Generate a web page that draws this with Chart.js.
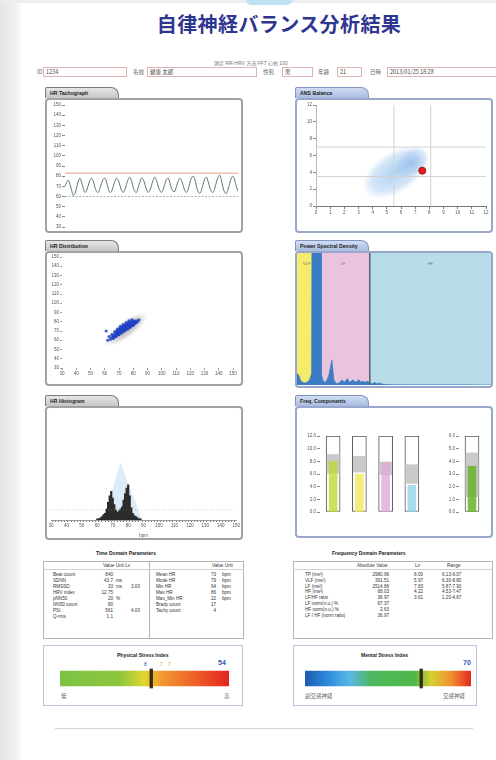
<!DOCTYPE html>
<html lang="ja">
<head>
<meta charset="utf-8">
<title>自律神経バランス分析結果</title>
<script src="https://cdn.jsdelivr.net/npm/chart.js@4.4.0/dist/chart.umd.min.js"></script>
<style>
    html, body { margin: 0; padding: 0; background: #fff; }
    body { width: 496px; height: 760px; position: relative; overflow: hidden;
           font-family: "Liberation Sans", Arial, "Noto Sans CJK JP", sans-serif; color: #333; }
    .abs { position: absolute; }
    .edge { left: 0; top: 0; width: 24px; height: 760px; background: linear-gradient(to right, #e4e5e7, #f3f3f4 70%, #fff); }
    .topbar { left: 0; top: 0; width: 496px; height: 3px; background: #ebedef; }
    .toptab { left: 246px; top: 0; width: 46px; height: 5px; background: #bfe1f1; border-radius: 0 0 6px 6px; }
    h1 { position: absolute; left: 0; top: 9px; width: 558px; margin: 0; text-align: center;
         font: bold 20px "Noto Sans CJK JP", sans-serif; color: #2f3690; letter-spacing: 0.4px; }
    .sub { font-size: 5px; color: #777; white-space: nowrap; }
    .lbl { font: 5.5px "Noto Sans CJK JP", sans-serif; color: #666; white-space: nowrap; }
    .box { height: 10px; box-sizing: border-box; border: 1px solid #e2b2b2; background: #fff;
           font: 5.5px "Noto Sans CJK JP", sans-serif; color: #444; line-height: 8px; padding-left: 2px; white-space: nowrap; }
    .tab { height: 11px; box-sizing: border-box; border: 1px solid #7d7d7d; border-bottom: none;
           border-radius: 2px 8px 0 0; background: linear-gradient(#e6e6e6, #c6c6c6);
           font-weight: bold; font-size: 5.2px; line-height: 10px; padding-left: 4px; color: #222; white-space: nowrap; }
    .tab.blue { border-color: #8494c0; background: linear-gradient(#cfdcf2, #a9bde2); }
    .panel { box-sizing: border-box; border: 2px solid #a2a2a2; border-radius: 4px; background: #fff; }
    .panel.blue { border-color: #9aa7cd; }
    canvas { position: absolute; }
    .ttl { font-weight: bold; font-size: 5px; color: #222; white-space: nowrap; }
    .tbl { box-sizing: border-box; border: 1px solid #b4b4b4; background: #fff; }
    .cell { font-size: 4.6px; color: #333; white-space: nowrap; line-height: 5px; }
    .sbox { box-sizing: border-box; border: 1px solid #bcc3da; background: #fff; }
    .mk { font-size: 5px; white-space: nowrap; }
</style>
</head>
<body>
<div class="abs edge"></div>
<div class="abs topbar"></div>
<div class="abs toptab"></div>
<h1>自律神経バランス分析結果</h1>
<div id="page"></div>

<script>
// ---- data ----
const tachBeats = [70,74,76,72,66,61,63,69,75,78,74,68,64,66,71,76,78,75,69,65,64,68,73,77,78,74,68,64,65,70,
                   75,78,76,71,66,64,67,72,77,79,75,69,65,64,69,74,78,77,72,67,64,66,71,76,79,76,70,66,64,67,
                   72,77,78,74,68,65,65,70,75,78,76,71,66,64,67,73,78,80,77,70,65,63,66,72,77,79,75,69,65,64,
                   68,74,79,81,76,69,64,63,67,73,78,80,76,70,65];
const tachUpper = 83;
const tachLower = 60;

const ansPoint = { x: 7.5, y: 4.2 };
const ansRefX = [5.5, 8.1];
const ansRefY = [3.5, 7.0];
const ansCloud = [[3.4, 1.5], [7.8, 6.5]];
const ansCore = [[5.6, 3.9], [7.9, 6.4]];

const poincarePts = [[64,61],[65,63],[66,62],[66,65],[67,64],[67,66],[68,65],[68,67],[68,69],[69,66],[69,68],[69,70],
    [70,67],[70,69],[70,71],[70,72],[71,68],[71,70],[71,72],[71,73],[72,69],[72,71],[72,73],[72,74],[73,70],[73,72],
    [73,74],[73,75],[74,71],[74,73],[74,75],[74,76],[75,72],[75,74],[75,76],[75,77],[76,73],[76,75],[76,77],[76,78],
    [77,74],[77,76],[77,78],[77,79],[78,75],[78,77],[78,79],[79,76],[79,78],[79,80],[80,77],[80,79],[80,81],[81,78],
    [81,80],[82,79],[82,81],[83,80],[84,82],[65,66],[67,69],[69,72],[71,75],[73,77],[75,79],[77,81],[79,82],[66,63],
    [68,64],[70,66],[72,68],[74,70],[76,72],[78,74],[80,76],[63,64],[62,60],[61,70]];
const poincareHalo = [[60, 55], [90, 89]];

const psdFreq  = [0,0.004,0.008,0.012,0.016,0.020,0.024,0.027,0.030,0.031,0.035,0.040,0.045,0.0495,0.0505,0.054,
                  0.058,0.062,0.066,0.069,0.072,0.074,0.076,0.079,0.083,0.088,0.093,0.097,0.100,0.104,0.108,0.112,
                  0.116,0.120,0.124,0.128,0.132,0.136,0.140,0.145,0.150,0.155,0.160,0.165,0.170,0.175,0.180,0.190,
                  0.200,0.250,0.300,0.350,0.400];
const psdPower = [9,7,3,2,1.5,2,3,5,9,150,150,150,150,150,8,3,2,4,8,14,19,12,4,2,1,2,4,2,3,5,2,3,4,2,3,4,2,3,2,
                  3,1.5,1,2,1,1.5,0.8,0.5,0.3,0.2,0.1,0.1,0.1,0];
const psdBands = [['VLF', 0, 0.04], ['LF', 0.04, 0.15], ['HF', 0.15, 0.4]];

const histBins   = [60,61,62,63,64,65,66,67,68,69,70,71,72,73,74,75,76,77,78,79,80,81,82,83,84,85,86,87,88];
const histCounts = [1,1,2,3,5,6,10,16,22,26,20,14,9,7,8,10,12,18,24,29,32,22,11,6,4,3,2,1,1];
const histEnvelope = [[64,0],[75,52],[89,0]];
const histGuide = 9;

const fcLabels = ['TP', 'VLF', 'LF', 'HF'];
const fcLn     = [8.00, 5.97, 7.83, 4.22];
const fcRange  = [[6.13, 9.07], [6.30, 8.80], [5.87, 7.90], [4.53, 7.47]];
const lfhfLn    = 3.61;
const lfhfRange = [1.20, 4.67];

const physValue = 54;
const mentalValue = 70;

const timeLeft = [['Beat count','840','',''],['SDNN','43.7','ms',''],['RMSSD','33','ms','3.00'],['HRV index','12.75','',''],
                  ['pNN50','20','%',''],['NN50 count','80','',''],['PSI','561','','4.00'],['Q-rms','1.1','','']];
const timeRight = [['Mean HR','73','bpm'],['Mode HR','79','bpm'],['Min HR','64','bpm'],['Max HR','86','bpm'],
                   ['Max_Min HR','22','bpm'],['Brady count','17',''],['Tachy count','4','']];
const freqRows = [['TP (ms²)','2980.96'],['VLF (ms²)','391.51'],['LF (ms²)','2514.86'],['HF (ms²)','68.03'],
                  ['LF/HF ratio','36.97'],['LF norm(n.u.) %','97.37'],['HF norm(n.u.) %','2.63'],['LF / HF (norm ratio)','36.97']];

// ---- page layout ----
const page = document.getElementById('page');
function put(cls, x, y, text, extra) {
    const d = document.createElement('div');
    d.className = 'abs ' + cls;
    d.style.left = x + 'px';
    d.style.top = y + 'px';
    if (text !== undefined) d.textContent = text;
    if (extra) Object.assign(d.style, extra);
    page.appendChild(d);
    return d;
}
function putRight(cls, x, y, text) {
    const d = put(cls, 0, y, text);
    d.style.left = '';
    d.style.right = (496 - x) + 'px';
    return d;
}
function canvas(id, x, y, w, h) {
    const c = document.createElement('canvas');
    c.id = id; c.width = w; c.height = h;
    c.style.left = x + 'px'; c.style.top = y + 'px';
    page.appendChild(c);
    return c;
}

put('sub', 214, 59, '測定  RR-HRV     方法  FFT       心拍  100');
put('lbl', 37, 68, 'ID');
put('box', 43, 67, '1234', { width: '84px' });
put('lbl', 133, 68, '名前');
put('box', 147, 67, '健康  太郎', { width: '110px' });
put('lbl', 263, 68, '性別');
put('box', 282, 67, '男', { width: '31px' });
put('lbl', 318, 68, '年齢');
put('box', 337, 67, '21', { width: '25px' });
put('lbl', 370, 68, '日時');
put('box', 387, 67, '2013/01/25 18:28', { width: '112px' });

const panels = [
    ['HR Tachograph', 45, 87, 135, false],
    ['ANS Balance', 295, 87, 135, true],
    ['HR Distribution', 45, 240, 135, false],
    ['Power Spectral Density', 295, 240, 137, true],
    ['HR Histogram', 45, 395, 134, false],
    ['Freq. Components', 295, 395, 132, true]
];
panels.forEach(([name, x, y, h, blue]) => {
    put('tab' + (blue ? ' blue' : ''), x, y, name, { width: '74px' });
    put('panel' + (blue ? ' blue' : ''), x, y + 11, undefined, { width: '198px', height: h + 'px' });
});

// tables
put('ttl', 96, 550, 'Time Domain Parameters');
put('tbl', 43, 561, undefined, { width: '201px', height: '78px' });
put('abs', 149, 561, undefined, { width: '1px', height: '78px', background: '#b4b4b4' });
put('abs', 43, 569, undefined, { width: '201px', height: '1px', background: '#d0d0d0' });
put('cell', 103, 563, 'Value  Unit    Lv');
put('cell', 212, 563, 'Value   Unit');
timeLeft.forEach((r, i) => {
    const y = 572 + i * 6;
    put('cell', 53, y, r[0]);
    putRight('cell', 113, y, r[1]);
    put('cell', 116, y, r[2]);
    put('cell', 131, y, r[3]);
});
timeRight.forEach((r, i) => {
    const y = 572 + i * 6;
    put('cell', 156, y, r[0]);
    putRight('cell', 216, y, r[1]);
    put('cell', 222, y, r[2]);
});

put('ttl', 332, 550, 'Frequency Domain Parameters');
put('tbl', 293, 561, undefined, { width: '200px', height: '78px' });
put('abs', 293, 569, undefined, { width: '200px', height: '1px', background: '#d0d0d0' });
put('cell', 357, 563, 'Absolute Value');
put('cell', 415, 563, 'Ln');
put('cell', 447, 563, 'Range');
freqRows.forEach((r, i) => {
    const y = 572 + i * 5.8;
    put('cell', 305, y, r[0]);
    putRight('cell', 389, y, r[1]);
});
fcLn.concat([lfhfLn]).forEach((v, i) => {
    const y = 572 + i * 5.8;
    const rg = i < 4 ? fcRange[i] : lfhfRange;
    putRight('cell', 423, y, v.toFixed(2));
    put('cell', 442, y, rg[0].toFixed(2) + '-' + rg[1].toFixed(2));
});

// stress boxes
put('sbox', 43, 645, undefined, { width: '200px', height: '61px' });
put('ttl', 117, 652, 'Physical Stress Index');
put('mk', 144, 661, '8', { color: '#3553b0' });
put('mk', 160, 661, '7', { color: '#d49a20' });
put('mk', 168, 661, '7', { color: '#d49a20' });
put('mk', 218, 659, String(physValue), { color: '#3553b0', fontSize: '7px', fontWeight: 'bold' });
put('lbl', 61, 692, '低');
put('lbl', 224, 692, '高');

put('sbox', 293, 645, undefined, { width: '184px', height: '61px' });
put('ttl', 361, 652, 'Mental Stress Index');
put('mk', 463, 659, String(mentalValue), { color: '#3553b0', fontSize: '7px', fontWeight: 'bold' });
put('lbl', 305, 692, '副交感神経');
put('lbl', 443, 692, '交感神経');

put('abs', 55, 728, undefined, { width: '418px', height: '1px', background: '#d2d2d2' });

// ---- charts ----
Chart.defaults.font.family = "'Liberation Sans', Arial, sans-serif";
Chart.defaults.font.size = 4.5;
Chart.defaults.color = '#555';
Chart.defaults.animation = false;
Chart.defaults.responsive = false;
Chart.defaults.plugins.legend.display = false;
Chart.defaults.plugins.tooltip.enabled = false;

// soft ellipse between two data points (major axis), half width in px
function softEllipse(chart, ends, halfMinor, stops) {
    const xs = chart.scales.x, ys = chart.scales.y;
    const x1 = xs.getPixelForValue(ends[0][0]), y1 = ys.getPixelForValue(ends[0][1]);
    const x2 = xs.getPixelForValue(ends[1][0]), y2 = ys.getPixelForValue(ends[1][1]);
    const cx = (x1 + x2) / 2, cy = (y1 + y2) / 2;
    const half = Math.hypot(x2 - x1, y2 - y1) / 2;
    const ctx = chart.ctx;
    ctx.save();
    ctx.translate(cx, cy);
    ctx.rotate(Math.atan2(y2 - y1, x2 - x1));
    ctx.scale(1, halfMinor / half);
    const g = ctx.createRadialGradient(0, 0, 0, 0, 0, half);
    stops.forEach(s => g.addColorStop(s[0], s[1]));
    ctx.fillStyle = g;
    ctx.beginPath();
    ctx.arc(0, 0, half, 0, Math.PI * 2);
    ctx.fill();
    ctx.restore();
}

// HR Tachograph (Line Chart)
new Chart(canvas('tachChart', 47, 100, 194, 131), {
    type: 'line',
    data: {
        datasets: [{
            data: tachBeats.map((v, i) => ({ x: i, y: v })),
            borderColor: '#5e7677', borderWidth: 1, pointRadius: 0, tension: 0.4
        }, {
            data: [{ x: 0, y: tachUpper }, { x: tachBeats.length - 1, y: tachUpper }],
            borderColor: '#e8826c', borderWidth: 0.8, pointRadius: 0
        }, {
            data: [{ x: 0, y: tachLower }, { x: tachBeats.length - 1, y: tachLower }],
            borderColor: '#8ea6a2', borderWidth: 0.8, borderDash: [2, 1.5], pointRadius: 0
        }]
    },
    options: {
        layout: { padding: { top: 5, right: 3, bottom: 4, left: 0 } },
        scales: {
            x: { type: 'linear', min: 0, max: tachBeats.length - 1, display: false },
            y: {
                min: 30, max: 150,
                afterFit: a => { a.width = 18; },
                ticks: { stepSize: 10, padding: 1 },
                grid: { drawOnChartArea: false, tickLength: 3, color: '#888' },
                border: { display: false }
            }
        }
    }
});

// ANS Balance (Scatter)
new Chart(canvas('ansChart', 297, 99, 194, 131), {
    type: 'scatter',
    data: {
        datasets: [
            ...ansRefX.map(v => ({ type: 'line', data: [{ x: v, y: 0 }, { x: v, y: 12 }], borderColor: '#d2d2d2', borderWidth: 1, pointRadius: 0 })),
            ...ansRefY.map(v => ({ type: 'line', data: [{ x: 0, y: v }, { x: 12, y: v }], borderColor: '#d2d2d2', borderWidth: 1, pointRadius: 0 })),
            { data: [ansPoint], pointRadius: 3.5, backgroundColor: '#e11d1d', borderColor: '#9c1010', borderWidth: 1 }
        ]
    },
    options: {
        layout: { padding: { top: 6, right: 4, bottom: 14, left: 0 } },
        scales: {
            x: {
                type: 'linear', min: 0, max: 12,
                afterFit: a => { a.height = 10; },
                ticks: { stepSize: 1, padding: 1 },
                grid: { drawOnChartArea: false, tickLength: 3, color: '#777' },
                border: { color: '#777' }
            },
            y: {
                min: 0, max: 12,
                afterFit: a => { a.width = 19; },
                ticks: { stepSize: 2, padding: 1 },
                grid: { drawOnChartArea: false, tickLength: 3, color: '#888' },
                border: { color: '#bbb' }
            }
        }
    },
    plugins: [{
        id: 'ansCloud',
        beforeDatasetsDraw(chart) {
            softEllipse(chart, ansCloud, 21, [[0, 'rgba(150,195,236,0.75)'], [0.7, 'rgba(170,205,240,0.5)'], [1, 'rgba(190,215,245,0)']]);
            softEllipse(chart, ansCore, 13, [[0, 'rgba(120,172,226,0.55)'], [0.75, 'rgba(140,185,232,0.25)'], [1, 'rgba(140,185,232,0)']]);
        }
    }]
});

// HR Distribution (Poincare Scatter)
new Chart(canvas('distChart', 47, 253, 194, 131), {
    type: 'scatter',
    data: {
        datasets: [{
            data: poincarePts.map(p => ({ x: p[0], y: p[1] })),
            pointRadius: 1.6, borderWidth: 0, backgroundColor: 'rgba(34,66,196,0.85)'
        }]
    },
    options: {
        layout: { padding: { top: 4, right: 8, bottom: 6, left: 0 } },
        scales: {
            x: {
                type: 'linear', min: 30, max: 150,
                afterFit: a => { a.height = 10; },
                ticks: { stepSize: 10, padding: 1 },
                grid: { drawOnChartArea: false, tickLength: 2, color: '#999' },
                border: { display: false }
            },
            y: {
                min: 30, max: 150,
                afterFit: a => { a.width = 15; },
                ticks: { stepSize: 10, padding: 1 },
                grid: { drawOnChartArea: false, tickLength: 2, color: '#999' },
                border: { display: false }
            }
        }
    },
    plugins: [{
        id: 'halo',
        beforeDatasetsDraw(chart) {
            softEllipse(chart, poincareHalo, 9, [[0, 'rgba(150,150,150,0.75)'], [0.6, 'rgba(170,170,170,0.5)'], [1, 'rgba(200,200,200,0)']]);
        }
    }]
});

// Power Spectral Density (Area Chart with band backgrounds)
const bandColors = ['#f4ec6a', '#eac4de', '#b6dde8'];
new Chart(canvas('psdChart', 297, 253, 194, 132), {
    type: 'line',
    data: {
        datasets: [{
            data: psdFreq.map((f, i) => ({ x: f, y: psdPower[i] })),
            borderColor: '#3b7dc5', borderWidth: 0.6, backgroundColor: '#3b7dc5',
            fill: 'origin', pointRadius: 0, tension: 0
        }]
    },
    options: {
        layout: { padding: 0 },
        scales: {
            x: { type: 'linear', min: 0, max: 0.4, display: false },
            y: { min: 0, max: 100, display: false }
        }
    },
    plugins: [{
        id: 'bands',
        beforeDatasetsDraw(chart) {
            const { ctx, chartArea: a, scales: { x } } = chart;
            ctx.save();
            psdBands.forEach((b, i) => {
                const l = x.getPixelForValue(b[1]), r = x.getPixelForValue(b[2]);
                ctx.fillStyle = bandColors[i];
                ctx.fillRect(l, a.top, r - l, a.bottom - a.top);
                ctx.fillStyle = '#777';
                ctx.font = '4px "Liberation Sans", Arial';
                ctx.textAlign = 'center';
                ctx.fillText(b[0], (l + r) / 2, a.top + 12);
            });
            ctx.restore();
        },
        afterDatasetsDraw(chart) {
            const { ctx, chartArea: a, scales: { x } } = chart;
            const px = x.getPixelForValue(psdBands[2][1]);
            ctx.save();
            ctx.strokeStyle = '#55606a';
            ctx.lineWidth = 1.5;
            ctx.beginPath();
            ctx.moveTo(px, a.top);
            ctx.lineTo(px, a.bottom);
            ctx.stroke();
            ctx.restore();
        }
    }]
});

// HR Histogram (Bar Chart)
new Chart(canvas('histChart', 47, 408, 194, 130), {
    type: 'bar',
    data: {
        datasets: [{
            type: 'line', order: 3,
            data: histEnvelope.map(p => ({ x: p[0], y: p[1] })),
            fill: 'origin', backgroundColor: 'rgba(165,205,238,0.4)', borderWidth: 0, pointRadius: 0
        }, {
            type: 'bar', order: 2,
            data: histBins.map((b, i) => ({ x: b, y: histCounts[i] })),
            backgroundColor: '#2b2b2b', barPercentage: 1, categoryPercentage: 1
        }, {
            type: 'line', order: 1,
            data: [{ x: 30, y: histGuide }, { x: 150, y: histGuide }],
            borderColor: 'rgba(150,150,150,0.6)', borderWidth: 0.8, borderDash: [1, 2], pointRadius: 0
        }]
    },
    options: {
        layout: { padding: { top: 2, right: 4, bottom: 0, left: 4 } },
        scales: {
            x: {
                type: 'linear', min: 30, max: 150, offset: false,
                afterFit: a => { a.height = 18; },
                ticks: { stepSize: 2, autoSkip: false, maxRotation: 0, padding: 1,
                         callback: v => (v % 10 === 0 ? v : '') },
                grid: { drawOnChartArea: false, tickLength: 2, color: '#777' },
                border: { color: '#999' },
                title: { display: true, text: 'bpm', padding: 0, font: { size: 4.5 } }
            },
            y: { type: 'linear', min: 0, max: 100, stacked: false, display: false }
        }
    }
});

// Freq. Components (floating bars inside tubes)
const fcColors = ['rgba(190,214,40,0.75)', 'rgba(240,234,90,0.8)', 'rgba(228,168,214,0.8)', 'rgba(150,214,232,0.85)'];
function tubeChart(id, x, y, w, h, labels, values, ranges, colors, yMax, axisW, padR) {
    return new Chart(canvas(id, x, y, w, h), {
        type: 'bar',
        data: {
            labels: labels,
            datasets: [{
                order: 3, grouped: false, data: labels.map(() => [0, yMax]),
                backgroundColor: '#fff', borderColor: '#555', borderWidth: 1, borderSkipped: false, barThickness: 14
            }, {
                order: 2, grouped: false, data: ranges,
                backgroundColor: '#cacaca', barThickness: 12
            }, {
                order: 1, grouped: false, data: values,
                backgroundColor: colors, barThickness: 8
            }]
        },
        options: {
            layout: { padding: { top: 11, right: padR, bottom: 8, left: 0 } },
            scales: {
                x: {
                    afterFit: a => { a.height = 10; },
                    ticks: { padding: 2 },
                    grid: { display: false },
                    border: { display: false }
                },
                y: {
                    min: 0, max: yMax,
                    afterFit: a => { a.width = axisW; },
                    ticks: { stepSize: yMax / 6, padding: 1, callback: v => v.toFixed(1) },
                    grid: { drawOnChartArea: false, tickLength: 3, color: '#888' },
                    border: { display: false }
                }
            }
        }
    });
}
tubeChart('fcChart', 300, 425, 130, 105, fcLabels, fcLn, fcRange, fcColors, 12, 20, 5);
tubeChart('lfhfChart', 445, 425, 45, 105, ['LF/HF'], [lfhfLn], [lfhfRange], ['rgba(100,180,40,0.85)'], 6, 14, 5);

// Stress Index bars (gradient bar + marker)
function stressChart(id, x, y, w, value, stops) {
    return new Chart(canvas(id, x, y, w, 21), {
        type: 'bar',
        data: {
            labels: [''],
            datasets: [{
                order: 2, grouped: false, data: [[0, 100]], barThickness: 15,
                backgroundColor: c => {
                    const a = c.chart.chartArea;
                    if (!a) return stops[0][1];
                    const g = c.chart.ctx.createLinearGradient(a.left, 0, a.right, 0);
                    stops.forEach(s => g.addColorStop(s[0], s[1]));
                    return g;
                }
            }, {
                order: 1, grouped: false, data: [[value - 0.8, value + 0.8]], barThickness: 19,
                backgroundColor: '#3a2a12'
            }]
        },
        options: {
            indexAxis: 'y',
            layout: { padding: 0 },
            scales: {
                x: { min: 0, max: 100, display: false },
                y: { display: false }
            }
        }
    });
}
stressChart('physChart', 60, 668, 169, physValue,
    [[0, '#7dc243'], [0.35, '#8cc63e'], [0.5, '#e2d62e'], [0.6, '#f29a30'], [0.82, '#ee5a28'], [1, '#e3231f']]);
stressChart('mentalChart', 305, 668, 166, mentalValue,
    [[0, '#1d5bb0'], [0.14, '#2d8cdc'], [0.27, '#5ab8e6'], [0.4, '#4db85e'], [0.66, '#4fb848'], [0.76, '#d8d030'], [0.88, '#f09030'], [1, '#e3281f']]);
</script>
</body>
</html>
